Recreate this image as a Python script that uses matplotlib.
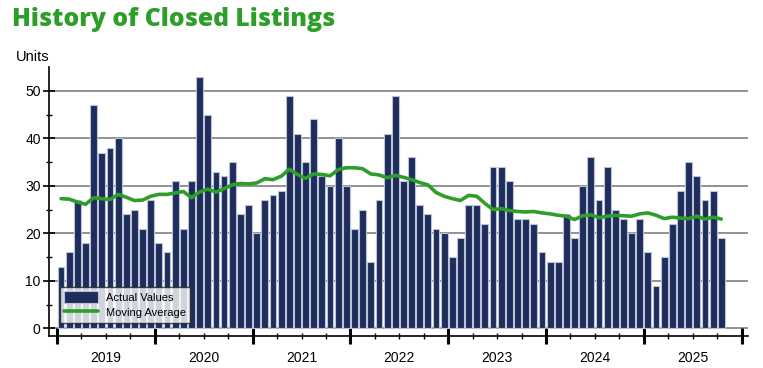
import matplotlib
matplotlib.use("Agg")
import matplotlib.pyplot as plt
import numpy as np
from matplotlib.ticker import FixedLocator, NullFormatter

plt.rcParams['font.family'] = ['Liberation Sans', 'DejaVu Sans']

years = ["2019", "2020", "2021", "2022", "2023", "2024", "2025"]

actual_values = [
    13, 16, 27, 18, 47, 37, 38, 40, 24, 25, 21, 27,   # 2019
    18, 16, 31, 21, 31, 53, 45, 33, 32, 35, 24, 26,   # 2020
    20, 27, 28, 29, 49, 41, 35, 44, 32, 30, 40, 30,   # 2021
    21, 25, 14, 27, 41, 49, 31, 36, 26, 24, 21, 20,   # 2022
    15, 19, 26, 26, 22, 34, 34, 31, 23, 23, 22, 16,   # 2023
    14, 14, 24, 19, 30, 36, 27, 34, 25, 23, 20, 23,   # 2024
    16, 9, 15, 22, 29, 35, 32, 27, 29, 19,            # 2025
]

moving_average = [
    27.3, 27.2, 26.6, 26.1, 27.5, 27.3, 27.1, 28.2, 27.6, 26.9, 27.0, 27.8,
    28.2, 28.2, 28.5, 28.8, 27.5, 28.7, 29.3, 28.7, 29.4, 30.2, 30.5, 30.4,
    30.6, 31.5, 31.3, 32.0, 33.5, 32.4, 31.6, 32.5, 32.4, 32.1, 33.4, 33.8,
    33.8, 33.6, 32.5, 32.3, 31.7, 32.2, 31.8, 31.3, 30.7, 30.2, 28.6, 27.8,
    27.3, 26.9, 28.0, 27.8, 26.3, 25.0, 25.2, 24.8, 24.6, 24.5, 24.6, 24.3,
    24.1, 23.8, 23.6, 22.9, 23.7, 23.9, 23.3, 23.6, 23.8, 23.7, 23.6, 24.1,
    24.3, 23.8, 23.1, 23.4, 23.2, 23.1, 23.6, 23.0, 23.4, 23.0,
]

y_ticks = [0, 10, 20, 30, 40, 50]

W, H = 763, 368
fig = plt.figure(figsize=(W / 100, H / 100), dpi=100)
left, right, bottom, top = 49, 748, 336, 67
ax = fig.add_axes([left / W, 1 - bottom / H, (right - left) / W, (bottom - top) / H])

x = np.arange(len(actual_values))
bar_color = "#1f2d5c"
green = "#2e9e2a"

for yv in y_ticks:
    ax.axhline(yv, color="#7f7f7f", lw=1.2, zorder=1)

bars = ax.bar(x, actual_values, width=0.84, color=bar_color, edgecolor="#b9c2d6",
              linewidth=0.8, zorder=2, label="Actual Values")
line, = ax.plot(x, moving_average, color=green, lw=2.6, zorder=3, label="Moving Average",
                solid_capstyle="round", solid_joinstyle="round")

ax.set_ylim(-1.6, 55)
ax.set_xlim(-1.48, 84.28)

for s in ["top", "right"]:
    ax.spines[s].set_visible(False)
ax.spines["left"].set_linewidth(1.2)
ax.spines["bottom"].set_linewidth(1.2)

ax.yaxis.set_major_locator(FixedLocator(y_ticks))
ax.yaxis.set_minor_locator(FixedLocator([5, 15, 25, 35, 45]))
ax.tick_params(axis="y", which="major", direction="inout", length=8, width=1.2,
               labelsize=10, pad=2)
ax.tick_params(axis="y", which="minor", direction="inout", length=4, width=1.0)

n_years = len(years)
major_x = [-0.5 + 12 * k for k in range(n_years + 1)]
minor_x = [-0.5 + 3 * k for k in range(4 * n_years + 1) if k % 4 != 0]
ax.xaxis.set_major_locator(FixedLocator(major_x))
ax.xaxis.set_major_formatter(NullFormatter())
ax.xaxis.set_minor_locator(FixedLocator(minor_x))
ax.xaxis.set_minor_formatter(NullFormatter())
ax.tick_params(axis="x", which="major", direction="inout", length=12, width=2.2)
ax.tick_params(axis="x", which="minor", direction="inout", length=4, width=1.0)

for k, yr in enumerate(years):
    ax.text(5.5 + 12 * k, -0.055, yr, transform=ax.get_xaxis_transform(),
            ha="center", va="top", fontsize=10)

fig.text(16 / W, 1 - 57 / H, "Units", ha="left", va="center", fontsize=10.5)
fig.text(12 / W, 1 - 20 / H, "History of Closed Listings", ha="left", va="center",
         fontsize=17.8, fontweight="heavy", color=green, family="Open Sans")

leg = ax.legend(handles=[bars, line], labels=["Actual Values", "Moving Average"],
                loc="lower left",
                bbox_to_anchor=((60 - left) / (right - left), (bottom - 323) / (bottom - top)),
                fontsize=8, frameon=True, fancybox=False, borderpad=0.4,
                handlelength=3.0, handleheight=1.3, borderaxespad=0, labelspacing=0.3,
                handletextpad=0.7)
leg.get_frame().set_edgecolor("#222222")
leg.get_frame().set_linewidth(1.0)

fig.savefig("out.png", dpi=100)
